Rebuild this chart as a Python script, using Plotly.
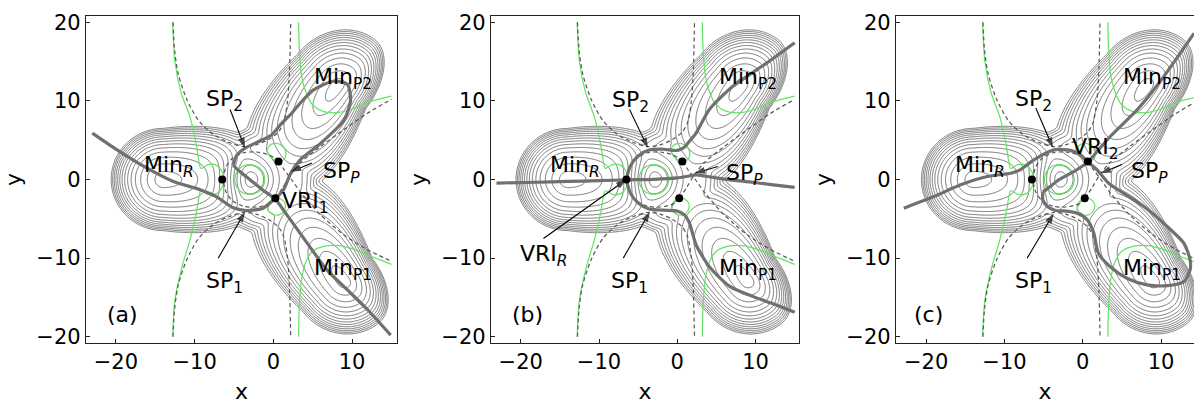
import numpy as np
import plotly.graph_objects as go

# ---------------------------------------------------------------
# Model surface: three valleys (R, P1, P2) and a central bowl joined
# by a soft minimum, with a Gaussian hill on top of the middle.
# ---------------------------------------------------------------
valley_cx = [-14.0, 9.0, 8.2]
valley_cy = [0.0, -12.8, 11.8]
valley_dir_deg = [180.0, -52.0, 52.0]
valley_a_out = [6.6, 7.0, 7.6]
valley_a_in = [15.0, 16.0, 16.0]
valley_b_pos = [6.5, 4.5, 6.6]
valley_b_neg = [6.5, 6.6, 4.5]
valley_flare_pos = [0.3, 1.05, 0.35]
valley_flare_neg = [0.3, 0.35, 1.05]
valley_lin = [0.45, 0.5, 0.5]

bowl_c = [-1.0, 0.0]
bowl_floor = 0.45
bowl_radius = 8.0
hill_c = [-3.0, 0.0]
hill_height = 0.45
hill_width = 2.3
soft_t = 0.04
level_step = 1.0 / 14
level_top = 1.0

grid_x = np.round(np.arange(-24.0, 15.001, 0.1), 2)
grid_y = np.round(np.arange(-20.0, 20.001, 0.1), 2)

# ---------------- dashed curves ----------------
dash_top_x = [-12.75, -12.55, -12.1, -11.0, -9.5, -7.6, -5.6, -3.8, -2.2, -0.6, 0.6, 1.3, 1.8, 2.05, 2.2]
dash_top_y = [20.0, 16.5, 13.5, 10.2, 7.5, 5.7, 4.7, 4.2, 4.4, 5.1, 6.0, 7.2, 10.0, 14.0, 20.0]
dash_bot_x = [-12.75, -12.55, -12.1, -11.0, -9.5, -7.6, -5.6, -3.8, -2.2, -0.6, 0.6, 1.3, 1.8, 2.05, 2.2]
dash_bot_y = [-20.0, -16.5, -13.5, -10.2, -7.5, -5.7, -4.7, -4.2, -4.4, -5.1, -6.0, -7.2, -10.0, -14.0, -20.0]
dash_ring_x = [0.7, -0.5, -2.2, -3.8, -5.2, -6.0, -6.35, -6.0, -5.2, -3.8, -2.2, -0.5, 0.3]
dash_ring_y = [2.3, 3.1, 3.5, 3.4, 2.7, 1.6, 0.0, -1.6, -2.7, -3.4, -3.5, -3.1, -2.4]
dash_up_x = [0.3, 1.2, 2.2, 3.4, 6.0, 8.9, 11.9, 15.0]
dash_up_y = [-2.4, -1.0, 0.6, 2.1, 4.2, 6.3, 8.4, 10.2]
dash_dn_x = [0.7, 1.4, 2.3, 3.6, 6.0, 8.9, 11.9, 15.0]
dash_dn_y = [2.3, 1.2, 0.0, -1.8, -4.5, -7.0, -8.9, -10.4]

# ---------------- green curves ----------------
green_left_x = [-12.8, -12.5, -11.7, -10.6, -9.8, -9.4, -9.2, -8.3, -7.2, -6.5, -6.3,
                -6.5, -7.2, -8.3, -9.2, -9.4, -9.8, -10.6, -11.6, -12.5, -12.8]
green_left_y = [20.0, 15.0, 11.0, 8.0, 4.5, 2.0, 1.4, 1.9, 1.8, 1.0, 0.0,
                -1.0, -1.8, -1.9, -1.4, -2.0, -4.3, -7.7, -11.1, -15.3, -20.0]
green_tr_x = [3.2, 3.3, 3.6, 4.1, 4.9, 6.2, 8.0, 9.8, 11.9, 15.0]
green_tr_y = [20.0, 16.5, 13.1, 11.2, 9.6, 8.7, 8.5, 8.9, 9.8, 10.6]
green_br_x = [3.2, 3.3, 3.6, 4.2, 5.0, 6.4, 8.3, 10.0, 12.0, 15.0]
green_br_y = [-20.0, -16.0, -12.5, -10.3, -9.1, -8.5, -8.4, -8.8, -9.6, -10.8]
green_up_loop_x = [0.6, 1.3, 1.6, 1.3, 0.5, -0.4, -0.8, -0.5, 0.1, 0.6]
green_up_loop_y = [2.3, 2.5, 3.2, 4.1, 4.6, 4.4, 3.7, 3.0, 2.5, 2.3]
green_lo_loop_x = [0.25, 1.0, 1.5, 1.4, 0.7, -0.2, -0.7, -0.6, -0.1, 0.25]
green_lo_loop_y = [-2.3, -2.5, -3.1, -3.9, -4.5, -4.4, -3.8, -3.0, -2.5, -2.3]
green_ring_center = [-3.0, 0.0]
green_ring_radius = 1.9

# ---------------- stationary / VRI points ----------------
dot_x = [-6.5, 0.65, 0.25]
dot_y = [0.0, 2.3, -2.4]

# ---------------- thick paths, panel (a) ----------------
pa_main_x = [-23.0, -19.9, -16.5, -12.7, -9.3, -7.2, -5.1, -3.4, -1.3, -0.2, 0.25]
pa_main_y = [5.9, 3.8, 1.7, -0.25, -1.3, -2.2, -3.6, -3.95, -3.65, -2.8, -2.45]
pa_out_x = [0.25, 2.15, 4.3, 6.8, 9.4, 12.0, 14.9]
pa_out_y = [-2.45, -5.1, -8.1, -11.5, -14.05, -16.6, -19.8]
pa_diag_x = [0.25, -1.4, -3.0, -4.3, -5.1]
pa_diag_y = [-2.45, -1.3, 0.0, 1.05, 1.8]
pa_loop_x = [-5.1, -4.7, -3.6, -1.9, -0.2, 1.1, 2.3, 3.4, 5.1, 7.6, 9.4, 9.8, 9.0, 6.0, 3.4, 2.2, 1.3, 0.25]
pa_loop_y = [1.8, 3.0, 4.0, 4.8, 5.7, 7.2, 8.4, 9.7, 11.4, 12.5, 12.1, 10.1, 7.6, 4.6, 2.5, 0.8, -1.3, -2.45]

# ---------------- thick paths, panel (b) ----------------
pb_axis_x = [-23.1, -18.0, -14.0, -10.0, -6.5, -3.0, 0.0, 1.5, 2.4, 3.5, 6.0, 9.2, 12.0, 15.0]
pb_axis_y = [-0.45, -0.35, -0.25, -0.15, -0.04, 0.02, 0.2, 0.45, 0.6, 0.45, 0.05, -0.3, -0.65, -1.0]
pb_ring_x = [15.0, 11.4, 7.1, 4.1, 2.4, 1.5, 0.9, 0.0, -1.8, -3.6, -5.0, -6.0, -6.45,
             -6.0, -5.0, -3.6, -1.8, 0.0, 0.9, 1.5, 2.4, 4.1, 6.7, 9.7, 12.5, 15.0]
pb_ring_y = [17.4, 14.8, 11.85, 8.9, 5.9, 4.8, 4.1, 3.7, 3.85, 3.75, 3.0, 1.7, 0.0,
             -1.7, -3.0, -3.75, -3.9, -4.0, -4.5, -5.4, -8.3, -11.1, -13.6, -14.9, -15.9, -16.9]

# ---------------- thick paths, panel (c) ----------------
pc_main_x = [-22.85, -19.0, -15.6, -12.2, -9.2, -8.0, -6.25, -4.55, -3.5, -1.6, -0.3, 0.68]
pc_main_y = [-3.65, -2.17, -0.68, 0.38, 0.8, 1.23, 2.5, 3.44, 3.8, 3.7, 3.14, 2.2]
pc_out_x = [0.68, 3.53, 6.94, 9.9, 14.2]
pc_out_y = [2.2, 5.5, 8.87, 12.5, 18.6]
pc_diag_x = [-5.1, -4.3, -3.0, -1.15, 0.68]
pc_diag_y = [-1.6, -1.0, 0.0, 1.0, 2.2]
pc_loop_x = [0.68, 1.83, 3.3, 5.2, 7.8, 10.8, 12.9, 13.7, 13.7, 12.9, 10.8, 8.2, 5.7, 3.5, 2.0,
             1.4, 0.55, -0.7, -2.4, -3.5, -4.55, -5.1, -5.1]
pc_loop_y = [2.2, 1.23, -0.47, -1.74, -3.44, -6.0, -8.1, -10.2, -11.5, -13.0, -13.5, -13.4, -12.6, -11.1,
             -9.4, -6.8, -5.1, -4.3, -4.0, -3.95, -3.4, -2.6, -1.6]

# ---------------- labels and arrows (tail x, tail y, head x, head y) ----------------
label_a = [("Min<sub><i>R</i></sub>", -13.3, 1.6), ("Min<sub>P2</sub>", 8.8, 12.8),
           ("Min<sub>P1</sub>", 8.8, -11.4), ("SP<sub>2</sub>", -6.2, 10.0),
           ("SP<sub>1</sub>", -6.2, -13.1), ("SP<sub><i>P</i></sub>", 8.6, 0.9),
           ("VRI<sub>1</sub>", 4.1, -2.9), ("(a)", -19.2, -17.2)]
arrow_a = [(-5.5, 8.9, -3.6, 4.0), (-7.0, -10.0, -3.6, -4.1), (4.9, 2.1, 2.2, 1.0)]
label_b = [("Min<sub><i>R</i></sub>", -13.1, 1.6), ("Min<sub>P2</sub>", 9.0, 12.8),
           ("Min<sub>P1</sub>", 9.0, -11.4), ("SP<sub>2</sub>", -6.0, 9.9),
           ("SP<sub>1</sub>", -6.1, -13.1), ("SP<sub><i>P</i></sub>", 8.6, 0.7),
           ("VRI<sub><i>R</i></sub>", -17.0, -9.7), ("(b)", -19.1, -17.2)]
arrow_b = [(-6.1, 8.9, -3.74, 4.0), (-6.9, -10.0, -3.5, -4.1), (5.2, 1.65, 2.2, 0.8), (-17.1, -7.5, -6.5, 0.0)]
label_c = [("Min<sub><i>R</i></sub>", -13.1, 1.6), ("Min<sub>P2</sub>", 8.85, 12.8),
           ("Min<sub>P1</sub>", 8.85, -11.4), ("SP<sub>2</sub>", -6.25, 10.1),
           ("SP<sub>1</sub>", -6.25, -13.1), ("SP<sub><i>P</i></sub>", 8.5, 0.9),
           ("VRI<sub>2</sub>", 1.6, 3.9), ("(c)", -19.7, -17.2)]
arrow_c = [(-6.0, 9.1, -3.8, 4.0), (-7.1, -10.0, -3.7, -4.3), (5.0, 1.9, 2.26, 0.8)]

x_ticks = [-20, -10, 0, 10]
y_ticks = [-20, -10, 0, 10, 20]


# ---------------- surface evaluation ----------------
def valley_energy(X, Y, i):
    th = np.radians(valley_dir_deg[i])
    dx, dy = X - valley_cx[i], Y - valley_cy[i]
    u = dx * np.cos(th) + dy * np.sin(th)
    v = -dx * np.sin(th) + dy * np.cos(th)
    inward = np.maximum(-u, 0.0) / valley_a_in[i]
    a = np.where(u >= 0, valley_a_out[i], valley_a_in[i])
    b = np.where(v >= 0,
                 valley_b_pos[i] * (1 + valley_flare_pos[i] * inward),
                 valley_b_neg[i] * (1 + valley_flare_neg[i] * inward))
    s = np.sqrt((u / a) ** 2 + (v / b) ** 2)
    k = valley_lin[i]
    return k * s + (1 - k) * s ** 4


X, Y = np.meshgrid(grid_x, grid_y)
parts = [valley_energy(X, Y, i) for i in range(3)]
rb2 = ((X - bowl_c[0]) ** 2 + (Y - bowl_c[1]) ** 2) / bowl_radius ** 2
parts.append(bowl_floor + rb2 ** 2)
E = np.stack(parts)
m = E.min(axis=0)
base = m - soft_t * np.log(np.exp(-(E - m) / soft_t).sum(axis=0))
hill = hill_height * np.exp(-((X - hill_c[0]) ** 2 + (Y - hill_c[1]) ** 2) / (2 * hill_width ** 2))
Z = np.round(np.minimum(base + hill, 3.0), 4)

ring_t = np.linspace(0, 2 * np.pi, 60)
green_ring_x = green_ring_center[0] + green_ring_radius * np.cos(ring_t)
green_ring_y = green_ring_center[1] + green_ring_radius * np.sin(ring_t)

# ---------------- figure ----------------
FONT = "DejaVu Sans"
CONTOUR_COLOR = "#565656"
PATH_COLOR = "#707070"
GREEN = "#5fe65f"
DASH_COLOR = "#555555"

fig = go.Figure()

x_domains = [[86 / 1194, 397 / 1194], [491 / 1194, 799 / 1194], [896 / 1194, 1.0]]
x_ranges = [[-23.8, 15.7], [-23.8, 15.55], [-23.85, 14.2]]
y_domain = [61 / 404, 388 / 404]
y_range = [-20.8, 20.8]

panel_paths = [
    [(pa_main_x, pa_main_y), (pa_out_x, pa_out_y), (pa_diag_x, pa_diag_y), (pa_loop_x, pa_loop_y)],
    [(pb_axis_x, pb_axis_y), (pb_ring_x, pb_ring_y)],
    [(pc_main_x, pc_main_y), (pc_out_x, pc_out_y), (pc_diag_x, pc_diag_y), (pc_loop_x, pc_loop_y)],
]
panel_labels = [label_a, label_b, label_c]
panel_arrows = [arrow_a, arrow_b, arrow_c]

dash_sets = [(dash_top_x, dash_top_y), (dash_bot_x, dash_bot_y), (dash_ring_x, dash_ring_y),
             (dash_up_x, dash_up_y), (dash_dn_x, dash_dn_y)]
green_sets = [(green_left_x, green_left_y), (green_tr_x, green_tr_y), (green_br_x, green_br_y),
              (green_up_loop_x, green_up_loop_y), (green_lo_loop_x, green_lo_loop_y),
              (green_ring_x, green_ring_y)]

annotations = []
for p in range(3):
    xa = "x" if p == 0 else f"x{p + 1}"
    ya = "y" if p == 0 else f"y{p + 1}"

    fig.add_trace(go.Contour(
        x=grid_x, y=grid_y, z=Z, xaxis=xa, yaxis=ya,
        contours=dict(start=level_step, end=level_top + 0.5 * level_step, size=level_step,
                      coloring="lines", showlabels=False),
        colorscale=[[0, CONTOUR_COLOR], [1, CONTOUR_COLOR]],
        line=dict(width=0.8, smoothing=1.0), showscale=False, hoverinfo="skip"))

    for gx, gy in green_sets:
        fig.add_trace(go.Scatter(x=gx, y=gy, xaxis=xa, yaxis=ya, mode="lines",
                                 line=dict(color=GREEN, width=1.2, shape="spline", smoothing=0.8),
                                 showlegend=False, hoverinfo="skip"))
    for dx_, dy_ in dash_sets:
        fig.add_trace(go.Scatter(x=dx_, y=dy_, xaxis=xa, yaxis=ya, mode="lines",
                                 line=dict(color=DASH_COLOR, width=1.2, dash="4px,3px", shape="spline", smoothing=0.8),
                                 showlegend=False, hoverinfo="skip"))
    for px_, py_ in panel_paths[p]:
        fig.add_trace(go.Scatter(x=px_, y=py_, xaxis=xa, yaxis=ya, mode="lines",
                                 line=dict(color=PATH_COLOR, width=3.2, shape="spline", smoothing=0.7),
                                 showlegend=False, hoverinfo="skip"))
    fig.add_trace(go.Scatter(x=dot_x, y=dot_y, xaxis=xa, yaxis=ya, mode="markers",
                             marker=dict(color="black", size=8), showlegend=False, hoverinfo="skip"))

    # pointer arrows: a thin line with an arrow-shaped marker at its head
    for ax_, ay_, hx, hy in panel_arrows[p]:
        fig.add_trace(go.Scatter(x=[ax_, hx], y=[ay_, hy], xaxis=xa, yaxis=ya, mode="lines+markers",
                                 line=dict(color="black", width=1.1),
                                 marker=dict(symbol="arrow", angleref="previous", size=[0, 11],
                                             color="black", line=dict(width=0)),
                                 showlegend=False, hoverinfo="skip"))

    for txt, tx, ty in panel_labels[p]:
        annotations.append(dict(text=txt, x=tx, y=ty, xref=xa, yref=ya, showarrow=False,
                                font=dict(family=FONT, size=22, color="black"),
                                xanchor="center", yanchor="middle"))

    axis_common = dict(showgrid=False, zeroline=False, ticks="inside", ticklen=4, tickwidth=1,
                       tickcolor="#222", showline=True, linecolor="#222", linewidth=1.2,
                       tickfont=dict(family=FONT, size=21, color="black"), automargin=False)
    xkey = "xaxis" if p == 0 else f"xaxis{p + 1}"
    ykey = "yaxis" if p == 0 else f"yaxis{p + 1}"
    fig.update_layout(**{
        xkey: dict(domain=x_domains[p], range=x_ranges[p], anchor=ya, tickvals=x_ticks,
                   mirror=True, title=dict(text="x", font=dict(family=FONT, size=22, color="black"), standoff=10),
                   **axis_common),
        ykey: dict(domain=y_domain, range=y_range, anchor=xa, tickvals=y_ticks,
                   mirror=(p < 2), title=dict(text="y", font=dict(family=FONT, size=22, color="black"), standoff=8),
                   **axis_common),
    })

fig.update_layout(width=1194, height=404, margin=dict(l=0, r=0, t=0, b=0), autosize=False,
                  paper_bgcolor="white", plot_bgcolor="white", showlegend=False,
                  annotations=annotations)

fig.write_html("out.html")
